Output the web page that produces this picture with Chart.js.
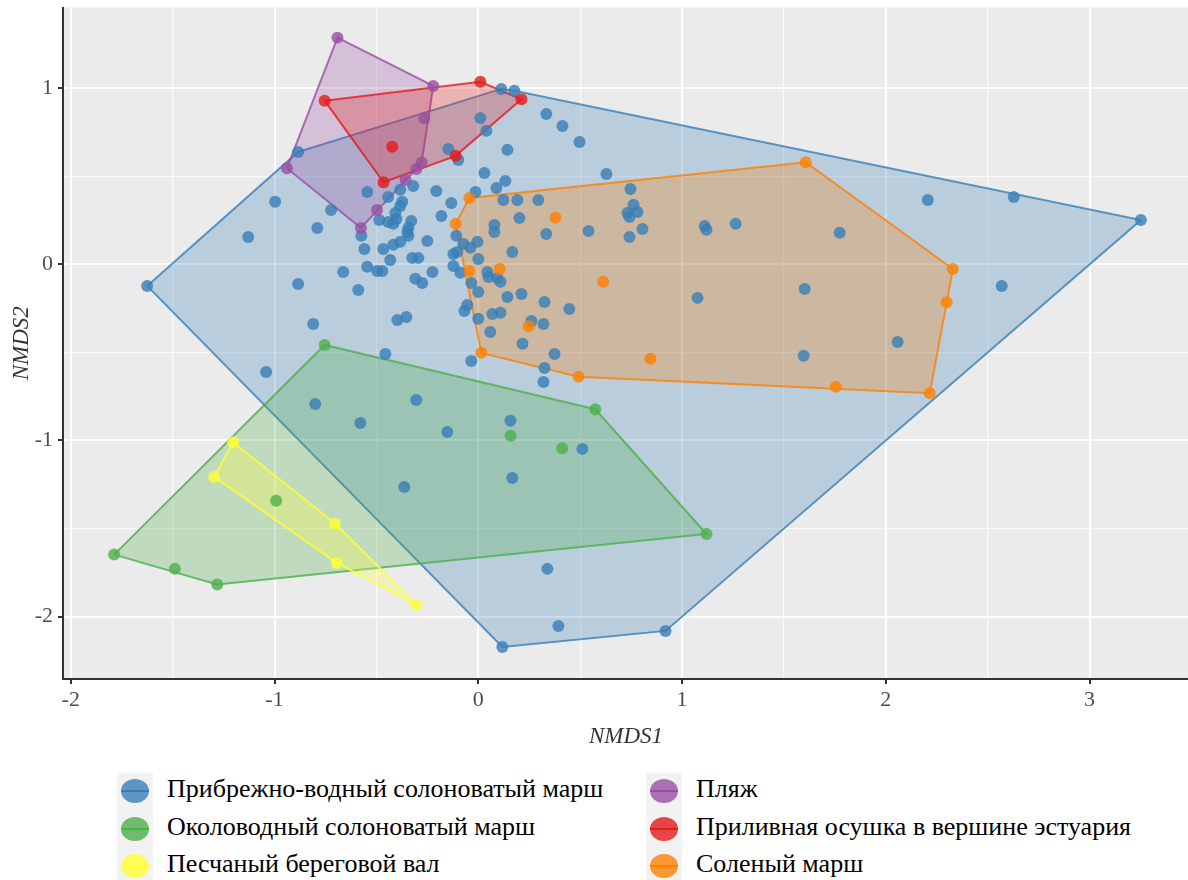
<!DOCTYPE html>
<html>
<head>
<meta charset="utf-8">
<script src="https://cdn.jsdelivr.net/npm/chart.js@4.4.0/dist/chart.umd.min.js"></script>
<style>
  body { margin: 0; background: #fff; }
  #wrap { position: relative; width: 1188px; height: 880px; overflow: hidden; }
  #nmds { position: absolute; left: 0; top: 0; }
  .keybox { position: absolute; top: 773px; width: 36px; height: 107px; background: #f2f2f2; }
  .item { position: absolute; height: 36px; font-family: "Liberation Serif", serif; font-size: 25px; color: #000; white-space: nowrap; line-height: 36px; transform: scaleX(1.04); transform-origin: left center; }
  .dot { position: absolute; width: 28px; height: 24px; border-radius: 50%; }
  .dot i { position: absolute; left: 0; right: 0; top: 11px; height: 2px; }
</style>
</head>
<body>
<div id="wrap">
  <canvas id="nmds" width="1195" height="760"></canvas>
  <div id="legend"></div>
</div>
<script>
// группы (порядок как в легенде)
const groupNames = [
  'Прибрежно-водный солоноватый марш',
  'Околоводный солоноватый марш',
  'Песчаный береговой вал',
  'Пляж',
  'Приливная осушка в вершине эстуария',
  'Соленый марш'
];
const groupColors = ['55,126,184', '77,175,74', '255,255,51', '152,78,163', '228,26,28', '255,127,0'];

// NMDS1, NMDS2
const coastalPts = [
  [-0.884,0.637],[0.113,0.995],[0.177,0.984],[0.334,0.853],[0.010,0.830],[0.040,0.757],[0.143,0.649],
  [-0.147,0.654],[-0.098,0.592],[0.030,0.518],[0.133,0.473],[0.089,0.433],[-0.014,0.410],[-0.206,0.416],
  [-0.319,0.444],[-0.383,0.422],[-0.545,0.410],[-0.997,0.354],[-0.722,0.308],[-0.790,0.206],[-1.129,0.155],
  [-0.442,0.382],[-0.373,0.354],[-0.383,0.331],[-0.132,0.348],[-0.181,0.274],[-0.407,0.291],[-0.329,0.246],
  [-0.486,0.251],[-0.442,0.240],[-0.417,0.229],[-0.343,0.206],[-0.348,0.183],[-0.343,0.161],[-0.574,0.161],
  [-0.559,0.087],[-0.466,0.087],[-0.417,0.110],[-0.383,0.127],[-0.250,0.132],[-0.432,0.024],[-0.324,0.036],
  [-0.294,0.036],[-0.663,-0.044],[-0.545,-0.015],[-0.496,-0.038],[-0.471,-0.038],[-0.225,-0.044],[-0.108,0.161],
  [-0.122,0.058],[-0.103,0.070],[-0.073,0.115],[-0.039,0.093],[-0.004,0.127],[0.000,0.030],[-0.088,-0.049],
  [0.045,-0.044],[0.079,0.223],[0.079,0.183],[0.167,0.070],[0.123,0.365],[0.192,0.365],[0.295,0.365],
  [0.202,0.263],[0.334,0.172],[-0.402,0.257],[0.413,0.785],[0.497,0.694],[0.629,0.512],[0.541,0.189],
  [0.747,0.427],[0.762,0.337],[0.732,0.291],[0.781,0.297],[0.742,0.268],[0.806,0.200],[0.742,0.155],
  [1.111,0.217],[1.120,0.195],[1.263,0.229],[1.774,0.178],[2.206,0.365],[2.628,0.382],[3.252,0.251],
  [1.602,-0.140],[1.076,-0.191],[2.058,-0.441],[1.597,-0.520],[2.569,-0.123],[-0.122,-0.010],[-0.275,-0.106],
  [-0.309,-0.083],[0.050,-0.072],[0.094,-0.078],[0.109,-0.100],[-0.034,-0.106],[0.000,-0.157],[0.143,-0.186],
  [0.212,-0.169],[0.325,-0.214],[0.447,-0.254],[-0.054,-0.231],[-0.068,-0.265],[0.069,-0.282],[0.109,-0.276],
  [0.000,-0.310],[0.261,-0.322],[0.320,-0.339],[0.059,-0.384],[0.217,-0.452],[0.374,-0.509],[-0.034,-0.549],
  [0.325,-0.589],[0.320,-0.668],[0.158,-0.889],[-0.152,-0.952],[0.511,-1.048],[-0.884,-0.112],[-0.589,-0.146],
  [-0.810,-0.339],[-0.397,-0.316],[-0.353,-0.299],[-0.456,-0.509],[-1.041,-0.611],[-0.800,-0.793],[-0.304,-0.770],
  [-0.579,-0.901],[0.167,-1.213],[-0.363,-1.264],[0.339,-1.729],[0.393,-2.053],[0.118,-2.172],[0.919,-2.081],
  [-1.625,-0.123]
];
const nearWaterPts = [
  [-0.754,-0.458],[-1.787,-1.648],[-1.489,-1.729],[-1.281,-1.818],[-0.992,-1.342],
  [0.159,-0.974],[0.412,-1.044],[0.574,-0.823],[1.120,-1.531]
];
const sandRidgePts = [[-1.203,-1.010],[-1.296,-1.207],[-0.703,-1.472],[-0.695,-1.695],[-0.304,-1.932]];
const beachPts = [
  [-0.691,1.286],[-0.221,1.012],[-0.939,0.545],[-0.576,0.206],[-0.497,0.308],
  [-0.357,0.478],[-0.304,0.541],[-0.278,0.577],[-0.265,0.829]
];
const tidalFlatPts = [[-0.754,0.928],[0.010,1.035],[0.212,0.936],[-0.111,0.615],[-0.465,0.465],[-0.422,0.667]];
const saltMarshPts = [
  [-0.044,0.376],[-0.111,0.229],[0.379,0.264],[-0.044,-0.038],[0.105,-0.027],[0.613,-0.099],[0.248,-0.352],
  [0.015,-0.503],[0.492,-0.638],[0.845,-0.537],[1.607,0.579],[2.329,-0.027],[2.299,-0.216],[2.216,-0.732],
  [1.755,-0.696]
];
const groupPts = [coastalPts, nearWaterPts, sandRidgePts, beachPts, tidalFlatPts, saltMarshPts];

const xRange = [-2.038, 3.488];
const yRange = [-2.354, 1.457];
const xMajor = [-2, -1, 0, 1, 2, 3];
const xMinor = [-1.5, -0.5, 0.5, 1.5, 2.5];
const yMajor = [-2, -1, 0, 1];
const yMinor = [-1.5, -0.5, 0.5];

const nmds = {
  // выпуклая оболочка (monotone chain)
  hull: (pts) => {
    const p = pts.slice().sort((a, b) => a[0] - b[0] || a[1] - b[1]);
    const cross = (o, a, b) => (a[0] - o[0]) * (b[1] - o[1]) - (a[1] - o[1]) * (b[0] - o[0]);
    const lower = [], upper = [];
    p.forEach(q => {
      while (lower.length >= 2 && cross(lower[lower.length - 2], lower[lower.length - 1], q) <= 0) lower.pop();
      lower.push(q);
    });
    p.slice().reverse().forEach(q => {
      while (upper.length >= 2 && cross(upper[upper.length - 2], upper[upper.length - 1], q) <= 0) upper.pop();
      upper.push(q);
    });
    const h = lower.slice(0, -1).concat(upper.slice(0, -1));
    h.push(h[0]);
    return h;
  }
  , toXY: (pts) => pts.map(p => ({x: p[0], y: p[1]}))
  , gridOpts: (majors) => ({
      color: ctx => majors.includes(ctx.tick.value) ? '#ffffff' : 'rgba(255,255,255,0.75)',
      lineWidth: ctx => majors.includes(ctx.tick.value) ? 2 : 1.2,
      tickColor: ctx => majors.includes(ctx.tick.value) ? '#333333' : 'rgba(0,0,0,0)',
      tickWidth: 2,
      tickLength: 5,
      drawTicks: true
    })
  // без запасов под подписи крайних делений
  , noPad: (s) => { s.paddingTop = 0; s.paddingBottom = 0; s.paddingLeft = 0; s.paddingRight = 0; }
  , panelBg: {
      id: 'panelBg',
      beforeDraw: (chart) => {
        const a = chart.chartArea;
        chart.ctx.save();
        chart.ctx.fillStyle = '#ebebeb';
        chart.ctx.fillRect(a.left, a.top, a.right - a.left, a.bottom - a.top);
        chart.ctx.restore();
      }
    }
  , build: () => {
    const datasets = [];
    groupPts.forEach((pts, i) => {
      const c = groupColors[i];
      datasets.push({
        label: groupNames[i] + ' (оболочка)',
        data: nmds.toXY(nmds.hull(pts)),
        showLine: true,
        fill: 'shape',
        tension: 0,
        pointRadius: 0,
        borderWidth: 2,
        borderColor: `rgba(${c},0.8)`,
        backgroundColor: `rgba(${c},0.27)`,
        order: 20 - i
      });
      datasets.push({
        label: groupNames[i],
        data: nmds.toXY(pts),
        showLine: false,
        pointRadius: 6,
        pointBorderWidth: 0,
        pointBackgroundColor: `rgba(${c},0.8)`,
        pointBorderColor: `rgba(${c},0)`,
        order: 10 - i
      });
    });

    const font = {family: '"Liberation Serif", serif', size: 22};
    const titleFont = {family: '"Liberation Serif", serif', size: 23, style: 'italic'};

    return new Chart(document.getElementById('nmds').getContext('2d'), {
      type: 'scatter',
      data: {datasets: datasets},
      plugins: [nmds.panelBg],
      options: {
        responsive: false,
        animation: false,
        layout: {padding: {top: 7.5, right: 0, left: 0, bottom: 0}},
        plugins: {legend: {display: false}, tooltip: {enabled: false}},
        scales: {
          x: {
            type: 'linear',
            min: xRange[0], max: xRange[1],
            afterBuildTicks: s => { s.ticks = xMajor.concat(xMinor).sort((a, b) => a - b).map(v => ({value: v})); },
            afterFit: s => { s.height = 81; nmds.noPad(s); },
            ticks: {
              autoSkip: false, maxRotation: 0, padding: 3, color: '#4d4d4d', font: font,
              callback: v => xMajor.includes(v) ? String(v) : ''
            },
            grid: nmds.gridOpts(xMajor),
            border: {display: true, color: '#333333', width: 2},
            title: {display: true, text: 'NMDS1', color: '#333333', font: titleFont, padding: {top: 0, bottom: 9}}
          },
          y: {
            type: 'linear',
            min: yRange[0], max: yRange[1],
            afterBuildTicks: s => { s.ticks = yMajor.concat(yMinor).sort((a, b) => a - b).map(v => ({value: v})); },
            afterFit: s => { s.width = 63; nmds.noPad(s); },
            ticks: {
              autoSkip: false, padding: 5, color: '#4d4d4d', font: font,
              callback: v => yMajor.includes(v) ? String(v) : ''
            },
            grid: nmds.gridOpts(yMajor),
            border: {display: true, color: '#333333', width: 2},
            title: {display: true, text: 'NMDS2', color: '#333333', font: titleFont, padding: {top: 8, bottom: 0}}
          }
        }
      }
    });
  }
  , legend: () => {
    const box = document.getElementById('legend');
    const cols = [117, 646];
    const rows = [791, 829, 866];
    let html = '';
    cols.forEach(x => { html += `<div class="keybox" style="left:${x}px"></div>`; });
    groupNames.forEach((name, i) => {
      const x = cols[Math.floor(i / 3)];
      const cy = rows[i % 3];
      const c = groupColors[i];
      html += `<div class="dot" style="left:${x + 4}px;top:${cy - 12}px;background:rgba(${c},0.8)"><i style="background:rgb(${c})"></i></div>`;
      html += `<div class="item" style="left:${x + 50}px;top:${cy - 20}px">${name}</div>`;
    });
    box.innerHTML = html;
  }
};

nmds.build();
nmds.legend();
</script>
</body>
</html>
